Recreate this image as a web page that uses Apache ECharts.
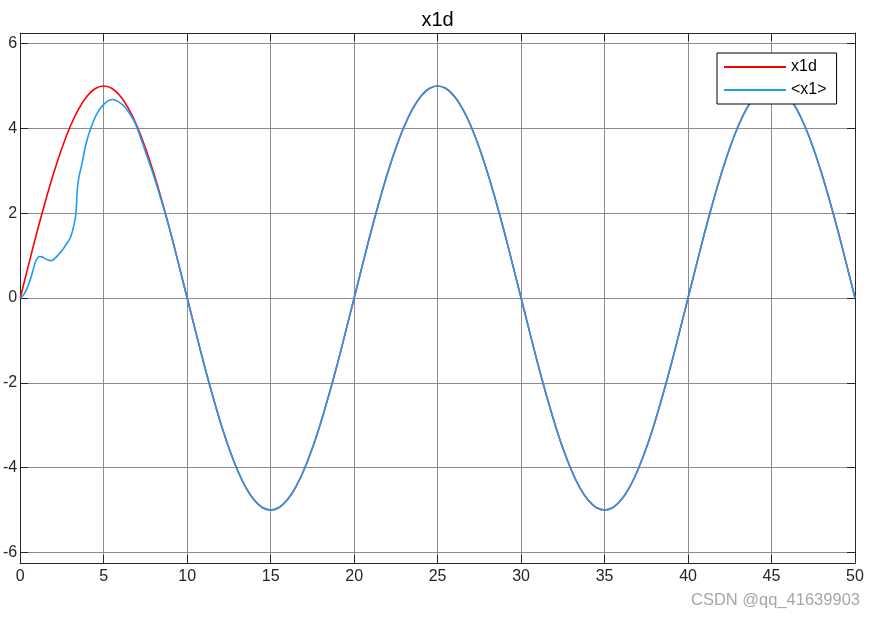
<!DOCTYPE html>
<html>
<head>
<meta charset="utf-8">
<script src="https://cdn.jsdelivr.net/npm/echarts@6/dist/echarts.min.js"></script>
<style>
html,body{margin:0;padding:0;background:#fff;}
#chart{width:875px;height:619px;}
</style>
</head>
<body>
<div id="chart"></div>
<script>
const titleText = 'x1d';
const seriesNames = ['x1d', '<x1>'];
const xTicks = [0, 5, 10, 15, 20, 25, 30, 35, 40, 45, 50];

const x1dTime = [0,0.5,1,1.5,2,2.5,3,3.5,4,4.5,5,5.5,6,6.5,7,7.5,8,8.5,9,9.5,
  10,10.5,11,11.5,12,12.5,13,13.5,14,14.5,15,15.5,16,16.5,17,17.5,18,18.5,19,19.5,
  20,20.5,21,21.5,22,22.5,23,23.5,24,24.5,25,25.5,26,26.5,27,27.5,28,28.5,29,29.5,
  30,30.5,31,31.5,32,32.5,33,33.5,34,34.5,35,35.5,36,36.5,37,37.5,38,38.5,39,39.5,
  40,40.5,41,41.5,42,42.5,43,43.5,44,44.5,45,45.5,46,46.5,47,47.5,48,48.5,49,49.5,50];
const x1dValues = [0,0.78,1.55,2.27,2.94,3.54,4.05,4.46,4.76,4.94,5.00,4.94,4.76,4.46,4.05,3.54,2.94,2.27,1.55,0.78,
  0,-0.78,-1.55,-2.27,-2.94,-3.54,-4.05,-4.46,-4.76,-4.94,-5.00,-4.94,-4.76,-4.46,-4.05,-3.54,-2.94,-2.27,-1.55,-0.78,
  0,0.78,1.55,2.27,2.94,3.54,4.05,4.46,4.76,4.94,5.00,4.94,4.76,4.46,4.05,3.54,2.94,2.27,1.55,0.78,
  0,-0.78,-1.55,-2.27,-2.94,-3.54,-4.05,-4.46,-4.76,-4.94,-5.00,-4.94,-4.76,-4.46,-4.05,-3.54,-2.94,-2.27,-1.55,-0.78,
  0,0.78,1.55,2.27,2.94,3.54,4.05,4.46,4.76,4.94,5.00,4.94,4.76,4.46,4.05,3.54,2.94,2.27,1.55,0.78,0];

const x1Time = [0,0.17,0.34,0.5,0.64,0.8,0.94,1.14,1.3,1.44,1.64,1.84,2.04,2.24,2.5,2.83,3.0,3.13,3.23,3.33,
  3.43,3.53,3.63,3.73,3.93,4.23,4.63,5.03,5.53,6.12,6.5,6.92,7.5,8,8.5,
  9,9.5,10,10.5,11,11.5,12,12.5,13,13.5,14,14.5,15,15.5,16,16.5,17,17.5,18,18.5,19,19.5,
  20,20.5,21,21.5,22,22.5,23,23.5,24,24.5,25,25.5,26,26.5,27,27.5,28,28.5,29,29.5,
  30,30.5,31,31.5,32,32.5,33,33.5,34,34.5,35,35.5,36,36.5,37,37.5,38,38.5,39,39.5,
  40,40.5,41,41.5,42,42.5,43,43.5,44,44.5,45,45.5,46,46.5,47,47.5,48,48.5,49,49.5,50];
const x1Values = [0,0.06,0.17,0.32,0.48,0.7,0.88,0.98,0.97,0.94,0.9,0.88,0.92,1.0,1.12,1.31,1.42,1.58,1.75,1.98,
  2.6,2.88,3.05,3.23,3.62,4.01,4.37,4.58,4.68,4.56,4.38,4.09,3.45,2.88,2.24,
  1.55,0.78,
  0,-0.78,-1.55,-2.27,-2.94,-3.54,-4.05,-4.46,-4.76,-4.94,-5.00,-4.94,-4.76,-4.46,-4.05,-3.54,-2.94,-2.27,-1.55,-0.78,
  0,0.78,1.55,2.27,2.94,3.54,4.05,4.46,4.76,4.94,5.00,4.94,4.76,4.46,4.05,3.54,2.94,2.27,1.55,0.78,
  0,-0.78,-1.55,-2.27,-2.94,-3.54,-4.05,-4.46,-4.76,-4.94,-5.00,-4.94,-4.76,-4.46,-4.05,-3.54,-2.94,-2.27,-1.55,-0.78,
  0,0.78,1.55,2.27,2.94,3.54,4.05,4.46,4.76,4.94,5.00,4.94,4.76,4.46,4.05,3.54,2.94,2.27,1.55,0.78,0];

const toPairs = (t, v) => t.map((x, i) => [x, v[i]]);
const axisColor = '#262626';
const gridColor = '#8c8c8c';
const font = 'Liberation Sans, Arial, sans-serif';

const chart = echarts.init(document.getElementById('chart'), null, {renderer: 'canvas'});
chart.setOption({
  animation: false,
  backgroundColor: '#ffffff',
  title: {
    text: titleText, left: 'center', top: 5,
    textStyle: {fontFamily: font, fontSize: 20, fontWeight: 'normal', color: '#000'}
  },
  grid: {left: 19, right: 20, top: 33, bottom: 56, containLabel: false},
  legend: {
    orient: 'vertical', left: 717, top: 53,
    backgroundColor: '#fff', borderColor: '#000', borderWidth: 1,
    padding: [6, 10, 6, 6], itemGap: 7, itemWidth: 62, itemHeight: 14,
    itemStyle: {opacity: 0},
    textStyle: {fontFamily: font, fontSize: 16, color: '#000'},
    data: seriesNames
  },
  xAxis: [{
    type: 'value', min: 0, max: 50, interval: 5, position: 'bottom',
    axisLine: {onZero: false, lineStyle: {color: axisColor, width: 1}},
    axisTick: {inside: true, length: 8, lineStyle: {color: axisColor}},
    axisLabel: {fontFamily: font, fontSize: 16, color: axisColor, margin: 6,
      formatter: v => xTicks.includes(v) ? String(v) : ''},
    splitLine: {show: true, lineStyle: {color: gridColor, width: 1}}
  }, {
    type: 'value', min: 0, max: 50, interval: 5, position: 'top',
    axisLine: {show: true, onZero: false, lineStyle: {color: axisColor, width: 1}},
    axisTick: {inside: true, length: 8, lineStyle: {color: axisColor}},
    axisLabel: {show: false}, splitLine: {show: false}
  }],
  yAxis: [{
    type: 'value', min: -6.25, max: 6.25, splitNumber: 6, position: 'left',
    axisLine: {show: true, onZero: false, lineStyle: {color: axisColor, width: 1}},
    axisTick: {inside: true, length: 8, lineStyle: {color: axisColor}},
    axisLabel: {fontFamily: font, fontSize: 16, color: axisColor, margin: 3,
      formatter: v => (Math.abs(v - Math.round(v)) < 1e-6 && Math.round(v) % 2 === 0) ? String(Math.round(v)) : ''},
    splitLine: {show: true, lineStyle: {color: gridColor, width: 1}}
  }, {
    type: 'value', min: -6.25, max: 6.25, splitNumber: 6, position: 'right',
    axisLine: {show: true, onZero: false, lineStyle: {color: axisColor, width: 1}},
    axisTick: {inside: true, length: 8, lineStyle: {color: axisColor}},
    axisLabel: {show: false}, splitLine: {show: false}
  }],
  series: [{
    name: seriesNames[0], type: 'line', symbol: 'none', smooth: 0.4,
    xAxisIndex: 0, yAxisIndex: 0,
    lineStyle: {color: '#ff0000', width: 1.6}, itemStyle: {color: '#ff0000'},
    data: toPairs(x1dTime, x1dValues), z: 2
  }, {
    name: seriesNames[1], type: 'line', symbol: 'none', smooth: 0.3,
    xAxisIndex: 0, yAxisIndex: 0,
    lineStyle: {color: '#1e9bf5', width: 1.6}, itemStyle: {color: '#1e9bf5'},
    data: toPairs(x1Time, x1Values), z: 3
  }],
  graphic: [{
    type: 'text', right: 15, top: 592,
    style: {text: 'CSDN @qq_41639903', fontFamily: font, fontSize: 16.5, fill: '#a6a6a6'}
  }]
});
</script>
</body>
</html>
